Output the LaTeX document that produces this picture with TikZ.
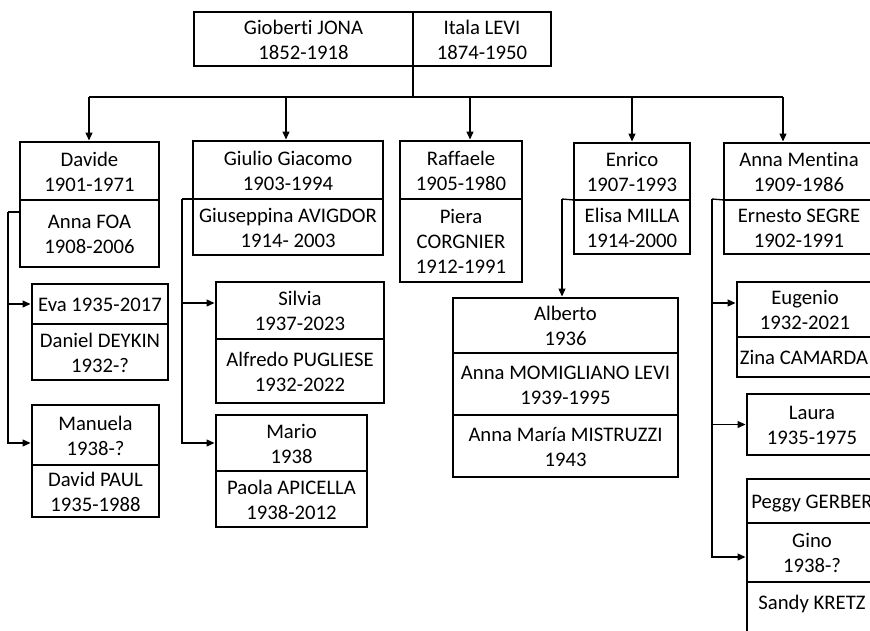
\documentclass[tikz,border=0pt]{standalone}
\usepackage{fontspec}
\setmainfont[Ligatures=CommonOff]{Carlito}
\usetikzlibrary{arrows.meta}
% centred stack of lines for one cell, nudged a little below the middle
\newcommand{\cellt}[1]{\raisebox{-2.5pt}[\height][\depth]{\begin{tabular}{@{}c@{}}#1\end{tabular}}}
\begin{document}
\begin{tikzpicture}[x=1pt,y=-1pt,
  cell/.style={draw, line width=1.3pt, anchor=north west, inner sep=0pt,
    outer sep=0pt, text=black,
    font=\fontsize{20.7}{25}\selectfont},
  sz/.style 2 args={minimum width=#1pt, minimum height=#2pt},
  link/.style={line width=1.3pt},
  arr/.style={link, -{Triangle[length=8pt,width=7pt]}, shorten >=1.5pt}]
\clip (0,0) rectangle (870,630);

% parents
\node[cell, sz={219}{54}] (giob) at (194,12) {\cellt{Gioberti JONA\\1852-1918}};
\node[cell, sz={138}{54}] (itala) at (giob.north east) {\cellt{Itala LEVI\\1874-1950}};

% children and their spouses
\node[cell, sz={139}{58}] (davide) at (20,142) {\cellt{Davide\\1901-1971}};
\node[cell, sz={139}{67}] (foa) at (davide.south west) {\cellt{Anna FOA\\1908-2006}};

\node[cell, sz={190}{58}] (giulio) at (193,141) {\cellt{Giulio Giacomo\\1903-1994}};
\node[cell, sz={190}{56}] (avigdor) at (giulio.south west) {\cellt{Giuseppina AVIGDOR\\1914- 2003}};

\node[cell, sz={122}{58}] (raffaele) at (400,141) {\cellt{Raffaele\\1905-1980}};
\node[cell, sz={122}{83}] (corgnier) at (raffaele.south west) {\cellt{Piera\\CORGNIER\\1912-1991}};

\node[cell, sz={116}{57}] (enrico) at (574,143) {\cellt{Enrico\\1907-1993}};
\node[cell, sz={116}{54}] (milla) at (enrico.south west) {\cellt{Elisa MILLA\\1914-2000}};

\node[cell, sz={150}{57}] (mentina) at (724,143) {\cellt{Anna Mentina\\1909-1986}};
\node[cell, sz={150}{54}] (segre) at (mentina.south west) {\cellt{Ernesto SEGRE\\1902-1991}};

% grandchildren
\node[cell, sz={136}{40}] (eva) at (32,284) {\cellt{Eva 1935-2017}};
\node[cell, sz={136}{56}] (deykin) at (eva.south west) {\cellt{Daniel DEYKIN\\1932-?}};
\node[cell, sz={127}{60}] (manuela) at (32,405) {\cellt{Manuela\\1938-?}};
\node[cell, sz={127}{52}] (paul) at (manuela.south west) {\cellt{David PAUL\\1935-1988}};

\node[cell, sz={168}{57}] (silvia) at (216,282) {\cellt{Silvia\\1937-2023}};
\node[cell, sz={168}{64}] (pugliese) at (silvia.south west) {\cellt{Alfredo PUGLIESE\\1932-2022}};
\node[cell, sz={151}{56}] (mario) at (216,415) {\cellt{Mario\\1938}};
\node[cell, sz={151}{56}] (apicella) at (mario.south west) {\cellt{Paola APICELLA\\1938-2012}};

\node[cell, sz={225}{55}] (alberto) at (453,298) {\cellt{Alberto\\1936}};
\node[cell, sz={225}{62}] (momigliano) at (alberto.south west) {\cellt{Anna MOMIGLIANO LEVI\\1939-1995}};
\node[cell, sz={225}{62}] (mistruzzi) at (momigliano.south west) {\cellt{Anna María MISTRUZZI\\1943}};

\node[cell, sz={136}{55}] (eugenio) at (737,282) {\cellt{Eugenio\\1932-2021}};
\node[cell, sz={134}{40}] (camarda) at (eugenio.south west) {\cellt{Zina CAMARDA}};
\node[cell, sz={130}{61}] (laura) at (747,394) {\cellt{Laura\\1935-1975}};
\node[cell, sz={130}{44}] (peggy) at (747,479) {\cellt{Peggy GERBER}};
\node[cell, sz={130}{59}] (gino) at (peggy.south west) {\cellt{Gino\\1938-?}};
\node[cell, sz={130}{65}] (kretz) at (gino.south west) {\cellt{Sandy KRETZ\\ \mbox{}}};

% bus from the parents to their children
\coordinate (b1) at (89,97);
\coordinate (b2) at (286,97);
\coordinate (b3) at (470,97);
\coordinate (b4) at (632,97);
\coordinate (b5) at (783,97);
\draw[link] (giob.south east) -- (giob.south east |- b1);
\draw[link] (b1) -- (b5);
\draw[arr] (b1) -- (b1 |- davide.north);
\draw[arr] (b2) -- (b2 |- giulio.north);
\draw[arr] (b3) -- (b3 |- raffaele.north);
\draw[arr] (b4) -- (b4 |- enrico.north);
\draw[arr] (b5) -- (b5 |- mentina.north);

% Davide's family
\coordinate (dv) at (8,212);
\draw[link] (foa.west |- dv) -- (dv);
\draw[arr] (dv) |- (eva.west);
\draw[arr] (dv) |- ([yshift=-8pt]manuela.west);

% Giulio Giacomo's family
\coordinate (gv) at (182,199);
\draw[link] (avigdor.north west) -- (gv);
\draw[arr] (gv) |- ([yshift=7.5pt]silvia.west);
\draw[arr] (gv) |- (mario.west);

% Enrico's family
\coordinate (ev) at (562,199);
\draw[link] (milla.north west) -- (ev);
\draw[arr] (ev) -- (ev |- alberto.north);

% Anna Mentina's family
\coordinate (mv) at (712,199);
\draw[link] (segre.north west) -- (mv);
\draw[arr] (mv) |- ([yshift=6.5pt]eugenio.west);
\draw[arr] (mv) |- (laura.west);
\draw[arr] (mv) |- ([yshift=-4.5pt]gino.west);
\end{tikzpicture}
\end{document}
